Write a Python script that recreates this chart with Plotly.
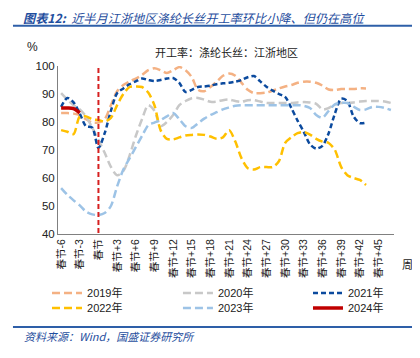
import plotly.graph_objects as go

weeks = list(range(-6, 48))
tick_weeks = list(range(-6, 46, 3))
tick_labels = [("春节" if w == 0 else ("春节%+d" % w)) for w in tick_weeks]

y2019 = [83.2, 83.2, 83.0, 82.5, 81.0, 79.8, 79.8, 81.0, 86.0, 91.0, 93.2, 94.5, 95.5, 96.8,
         98.5, 99.2, 98.5, 97.5, 98.5, 99.6, 98.5, 96.0, 91.5, 91.0, 92.5, 94.4, 96.5, 97.3,
         96.5, 94.0, 91.5, 90.3, 90.3, 90.5, 91.2, 92.0, 92.7, 93.2, 94.0, 94.4, 94.4, 94.0,
         93.0, 91.6, 91.4, 91.8, 91.8, 91.8, 92.0, 92.0]
y2020 = [90.3, 88.0, 86.0, 84.5, 82.0, 78.0, 73.6, 69.0, 64.0, 61.0, 62.5, 68.0, 75.0, 81.0,
         86.0, 84.0, 78.5, 80.0, 82.5, 86.0, 87.5, 88.5, 88.6, 88.0, 87.2, 87.3, 87.8, 88.0,
         87.5, 87.2, 87.8, 87.8, 87.3, 86.8, 86.8, 86.8, 86.8, 86.8, 87.0, 87.1, 87.0, 86.5,
         84.5, 85.0, 86.2, 86.8, 86.8, 87.0, 87.3, 87.5, 87.5, 87.5, 87.3, 86.8]
y2021 = [85.4, 88.6, 87.0, 83.0, 78.5, 78.0, 70.7, 76.0, 84.0, 90.3, 92.0, 93.5, 94.5, 95.5,
         95.0, 94.6, 95.0, 95.5, 95.7, 94.0, 90.7, 91.5, 92.5, 92.7, 93.0, 93.5, 93.8, 94.0,
         94.4, 95.0, 96.0, 96.4, 94.5, 92.6, 91.2, 90.0, 89.0, 85.0, 80.5, 76.5, 72.0, 70.5,
         71.5, 76.0, 83.0, 88.3, 87.5, 82.0, 79.6, 79.8]
y2022 = [77.1, 76.5, 75.7, 82.0, 82.0, 81.0, 80.7, 80.2, 81.5, 86.0, 90.0, 92.5, 92.7, 92.5,
         90.5, 86.0, 77.0, 74.0, 73.8, 74.5, 75.2, 75.4, 75.5, 75.4, 74.8, 74.0, 74.5, 77.1,
         73.0, 67.0, 63.5, 63.0, 63.9, 63.9, 63.9, 66.0, 72.5, 74.5, 76.0, 76.4, 75.5, 74.0,
         73.0, 72.5, 70.0, 64.0, 61.0, 60.0, 59.3, 57.5]
y2023 = [56.4, 54.0, 52.0, 50.2, 48.0, 47.0, 46.8, 47.5, 50.0, 57.0, 63.0, 67.0, 71.0, 75.0,
         78.8, 79.8, 80.7, 82.0, 83.2, 81.0, 78.5, 77.9, 79.5, 81.2, 82.5, 83.5, 84.5, 85.2,
         85.8, 86.0, 86.0, 86.0, 86.0, 86.0, 86.0, 86.0, 86.0, 86.0, 86.0, 85.8, 85.0, 82.5,
         81.5, 84.0, 86.3, 86.8, 86.8, 85.5, 84.3, 84.5, 85.4, 85.4, 85.0, 84.3]
y2024 = [85.0, 85.0, 84.8, 83.3]

series = [
    ("2019年", y2019, "#F4B183", "8px,4px", 2.5),
    ("2020年", y2020, "#C8C8C8", "8px,4px", 2.5),
    ("2021年", y2021, "#0B4A9E", "5px,3px", 2.5),
    ("2022年", y2022, "#FFC000", "8px,4px", 2.5),
    ("2023年", y2023, "#9DC3E6", "8px,4px", 2.5),
    ("2024年", y2024, "#C00000", "solid", 3.5),
]

FONT = "Arial, Liberation Sans, Noto Sans CJK SC"
fig = go.Figure()
legend_ids = ["legend", "legend2", "legend3", "legend4", "legend5", "legend6"]
for (name, ys, col, dash, w), lid in zip(series, legend_ids):
    fig.add_trace(go.Scatter(
        x=weeks[:len(ys)], y=ys, name=name, mode="lines", legend=lid,
        line=dict(color=col, width=w, dash=dash, shape="spline", smoothing=0.8),
    ))

fig.add_shape(type="line", xref="x", yref="y", x0=0, x1=0, y0=40.4, y1=99.6,
              line=dict(color="#D62020", width=2, dash="5px,3px"))

# page body adds an 8px offset; the figure is sized so the plot area lands where the reference has it
legend_cols = [-0.0327, 0.357, 0.744]
legend_rows = [-0.351, -0.440]
leg_layout = {}
for i, lid in enumerate(legend_ids):
    leg_layout[lid] = dict(x=legend_cols[i % 3], y=legend_rows[i // 3], xanchor="left",
                           yanchor="middle", orientation="h", bgcolor="rgba(0,0,0,0)",
                           borderwidth=0, itemwidth=30,
                           font=dict(size=11, family=FONT, color="#222"))

fig.update_layout(
    template="none",
    width=412, height=350,
    margin=dict(l=50, r=26, t=58, b=124, autoexpand=False),
    paper_bgcolor="white", plot_bgcolor="white",
    font=dict(family=FONT, size=11, color="#222"),
    showlegend=True,
    xaxis=dict(range=[-6.5, 47.5], tickmode="array", tickvals=tick_weeks, ticktext=tick_labels,
               tickangle=-90, showgrid=False, zeroline=False, showline=True, automargin=False,
               linecolor="#808080", linewidth=1, ticks="", tickfont=dict(size=10.5, family=FONT)),
    yaxis=dict(range=[40, 100], dtick=10, showgrid=False, zeroline=False, showline=True,
               automargin=False,
               linecolor="#808080", linewidth=1, ticks="", tickfont=dict(size=11.5, family=FONT)),
    **leg_layout,
)

fig.add_annotation(xref="paper", yref="paper", x=-0.055, y=1.06, text="%", showarrow=False,
                   xanchor="right", yanchor="bottom", font=dict(size=12, family=FONT))
fig.add_annotation(xref="paper", yref="paper", x=0.5, y=1.085, text="开工率：涤纶长丝：江浙地区",
                   showarrow=False, xanchor="center", yanchor="middle",
                   font=dict(size=11, family="Noto Sans CJK SC", color="#222"))
fig.add_annotation(xref="paper", yref="paper", x=1.04, y=-0.18, text="周", showarrow=False,
                   xanchor="center", yanchor="middle", font=dict(size=11, family="Noto Sans CJK SC"))
fig.add_annotation(xref="paper", yref="paper", x=-0.107, y=1.345,
                   text="<b>图表12:</b>  近半月江浙地区涤纶长丝开工率环比小降、但仍在高位",
                   showarrow=False, xanchor="left", yanchor="top", borderpad=0,
                   font=dict(size=12.2, family="Noto Sans CJK SC", color="#1F4E9E", style="italic"))
fig.add_annotation(xref="paper", yref="paper", x=-0.107, y=-0.605,
                   text="资料来源：Wind，国盛证券研究所",
                   showarrow=False, xanchor="left", yanchor="middle",
                   font=dict(size=11, family="Noto Sans CJK SC", color="#1F4E9E", style="italic"))
fig.add_shape(type="line", xref="paper", yref="paper", x0=-0.134, x1=1.08, y0=1.24, y1=1.24,
              line=dict(color="#2E5FA8", width=2))
fig.add_shape(type="line", xref="paper", yref="paper", x0=-0.134, x1=1.08, y0=-0.554, y1=-0.554,
              line=dict(color="#2E5FA8", width=2))

fig.write_html("out.html")
